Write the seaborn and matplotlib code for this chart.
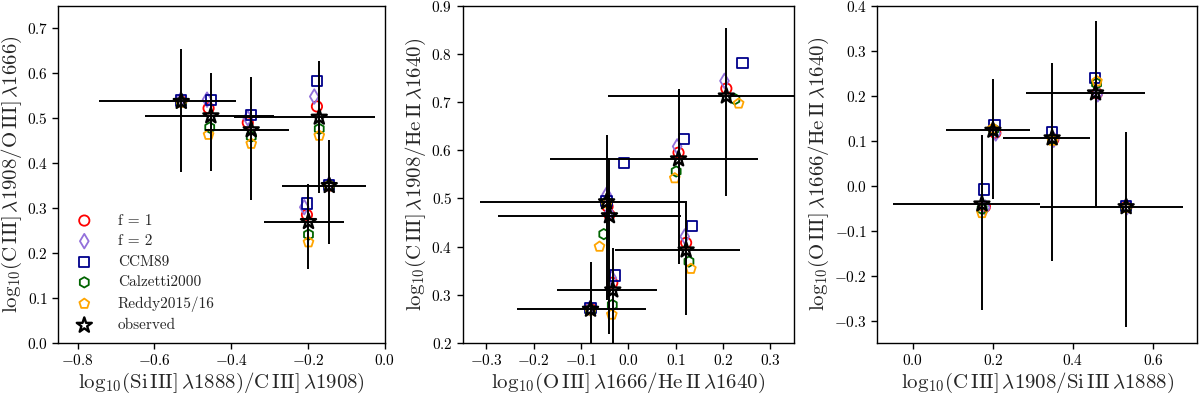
import numpy as np
import pandas as pd
import matplotlib
matplotlib.use("Agg")
import matplotlib.pyplot as plt
import seaborn as sns

sns.set_style("ticks")
plt.rcParams["font.family"] = ["cmr10", "DejaVu Serif"]
plt.rcParams["mathtext.fontset"] = "cm"
plt.rcParams["axes.formatter.use_mathtext"] = True

# model labels / marker styles
models = ["f = 1", "f = 2", "CCM89", "Calzetti2000", "Reddy2015/16"]
model_markers = ["o", "d", "s", "h", "p"]
model_colors = ["red", "mediumpurple", "darkblue", "darkgreen", "orange"]

# ---- panel 1: SiIII/CIII vs CIII/OIII
p1_obs_x = [-0.530, -0.453, -0.348, -0.171, -0.145, -0.199]
p1_obs_y = [0.537, 0.505, 0.474, 0.502, 0.350, 0.270]
p1_xerr_lo = [0.215, 0.172, 0.121, 0.223, 0.123, 0.115]
p1_xerr_hi = [0.143, 0.163, 0.098, 0.146, 0.096, 0.092]
p1_yerr_lo = [0.156, 0.122, 0.156, 0.169, 0.129, 0.106]
p1_yerr_hi = [0.116, 0.095, 0.118, 0.124, 0.102, 0.084]
p1_f1 = [(-0.530, 0.537), (-0.459, 0.522), (-0.357, 0.490), (-0.177, 0.526), (-0.145, 0.350), (-0.203, 0.285)]
p1_f2 = [(-0.532, 0.540), (-0.463, 0.541), (-0.357, 0.500), (-0.184, 0.548), (-0.146, 0.352), (-0.210, 0.302)]
p1_ccm = [(-0.530, 0.539), (-0.453, 0.541), (-0.348, 0.507), (-0.177, 0.583), (-0.145, 0.352), (-0.203, 0.310)]
p1_calz = [(-0.530, 0.536), (-0.456, 0.479), (-0.348, 0.459), (-0.171, 0.476), (-0.145, 0.350), (-0.199, 0.241)]
p1_reddy = [(-0.530, 0.535), (-0.459, 0.463), (-0.348, 0.443), (-0.171, 0.461), (-0.145, 0.349), (-0.199, 0.224)]

# ---- panel 2: OIII/HeII vs CIII/HeII
p2_obs_x = [0.207, 0.106, -0.046, -0.040, 0.122, -0.033, -0.080]
p2_obs_y = [0.7125, 0.582, 0.493, 0.464, 0.393, 0.310, 0.270]
p2_xerr_lo = [0.250, 0.272, 0.268, 0.236, 0.150, 0.117, 0.156]
p2_xerr_hi = [0.180, 0.167, 0.165, 0.152, 0.114, 0.093, 0.117]
p2_yerr_lo = [0.2065, 0.217, 0.204, 0.245, 0.135, 0.130, 0.120]
p2_yerr_hi = [0.1415, 0.146, 0.138, 0.119, 0.102, 0.087, 0.099]
p2_f1 = [(0.207, 0.728), (0.106, 0.595), (-0.044, 0.483), (-0.040, 0.466), (0.122, 0.408), (-0.034, 0.325), (-0.080, 0.271)]
p2_f2 = [(0.203, 0.744), (0.103, 0.608), (-0.046, 0.508), (-0.041, 0.470), (0.119, 0.421), (-0.035, 0.335), (-0.081, 0.272)]
p2_ccm = [(0.241, 0.781), (0.117, 0.624), (-0.046, 0.495), (-0.009, 0.574), (0.134, 0.443), (-0.029, 0.340), (-0.080, 0.272)]
p2_calz = [(0.225, 0.706), (0.101, 0.556), (-0.046, 0.492), (-0.052, 0.426), (0.128, 0.369), (-0.034, 0.279), (-0.080, 0.269)]
p2_reddy = [(0.233, 0.697), (0.098, 0.542), (-0.046, 0.490), (-0.061, 0.400), (0.132, 0.354), (-0.035, 0.259), (-0.080, 0.268)]

# ---- panel 3: CIII/SiIII vs OIII/HeII
p3_obs_x = [0.200, 0.348, 0.4565, 0.1725, 0.533]
p3_obs_y = [0.123, 0.106, 0.206, -0.041, -0.047]
p3_xerr_lo = [0.117, 0.124, 0.174, 0.2235, 0.2165]
p3_xerr_hi = [0.092, 0.095, 0.1225, 0.1455, 0.142]
p3_yerr_lo = [0.153, 0.273, 0.252, 0.236, 0.268]
p3_yerr_hi = [0.113, 0.167, 0.161, 0.153, 0.166]
p3_f1 = [(0.206, 0.117), (0.351, 0.103), (0.460, 0.205), (0.180, -0.047), (0.534, -0.047)]
p3_f2 = [(0.207, 0.116), (0.352, 0.102), (0.462, 0.203), (0.181, -0.049), (0.535, -0.048)]
p3_ccm = [(0.204, 0.134), (0.348, 0.118), (0.456, 0.239), (0.178, -0.009), (0.533, -0.045)]
p3_calz = [(0.202, 0.125), (0.349, 0.104), (0.459, 0.227), (0.173, -0.052), (0.533, -0.048)]
p3_reddy = [(0.200, 0.127), (0.349, 0.100), (0.460, 0.232), (0.1725, -0.061), (0.533, -0.049)]

xlabels = [
    r"$\mathrm{log}_{10}(\mathrm{Si\,III]}\,\lambda1888)/\mathrm{C\,III]}\,\lambda1908)$",
    r"$\mathrm{log}_{10}(\mathrm{O\,III]}\,\lambda1666/\mathrm{He\,II}\,\lambda1640)$",
    r"$\mathrm{log}_{10}(\mathrm{C\,III]}\,\lambda1908/\mathrm{Si\,III}\,\lambda1888)$",
]
ylabels = [
    r"$\mathrm{log}_{10}(\mathrm{C\,III]}\,\lambda1908/\mathrm{O\,III]}\,\lambda1666)$",
    r"$\mathrm{log}_{10}(\mathrm{C\,III]}\,\lambda1908/\mathrm{He\,II}\,\lambda1640)$",
    r"$\mathrm{log}_{10}(\mathrm{O\,III]}\,\lambda1666/\mathrm{He\,II}\,\lambda1640)$",
]

panels = [
    (p1_obs_x, p1_obs_y, p1_xerr_lo, p1_xerr_hi, p1_yerr_lo, p1_yerr_hi,
     [p1_f1, p1_f2, p1_ccm, p1_calz, p1_reddy]),
    (p2_obs_x, p2_obs_y, p2_xerr_lo, p2_xerr_hi, p2_yerr_lo, p2_yerr_hi,
     [p2_f1, p2_f2, p2_ccm, p2_calz, p2_reddy]),
    (p3_obs_x, p3_obs_y, p3_xerr_lo, p3_xerr_hi, p3_yerr_lo, p3_yerr_hi,
     [p3_f1, p3_f2, p3_ccm, p3_calz, p3_reddy]),
]
limits = [((-0.85, 0.0), (0.0, 0.75)), ((-0.35, 0.35), (0.2, 0.9)), ((-0.089, 0.711), (-0.35, 0.4))]
boxes = [(0.0486, 0.1316, 0.2722, 0.854), (0.3856, 0.1316, 0.2761, 0.854), (0.7311, 0.1316, 0.2667, 0.854)]

fig = plt.figure(figsize=(12, 3.95), dpi=100)

for i, (ox, oy, xlo, xhi, ylo, yhi, mod) in enumerate(panels):
    ax = fig.add_axes(boxes[i])
    # model predictions
    for name, mk, col, pts in zip(models, model_markers, model_colors, mod):
        df = pd.DataFrame(pts, columns=["x", "y"])
        sns.scatterplot(data=df, x="x", y="y", marker=mk, s=55, color=col,
                        facecolor="none", edgecolor=col, linewidth=1.3,
                        label=name, legend=False, ax=ax, zorder=2)
    # observed with errors
    ax.errorbar(ox, oy, xerr=[xlo, xhi], yerr=[ylo, yhi], fmt="none",
                ecolor="black", elinewidth=1.4, capsize=0, zorder=3)
    obs = pd.DataFrame({"x": ox, "y": oy})
    sns.scatterplot(data=obs, x="x", y="y", marker="*", s=130, color="black",
                    facecolor="none", edgecolor="black", linewidth=1.7,
                    label="observed", legend=False, ax=ax, zorder=4)

    ax.set_xlim(limits[i][0])
    ax.set_ylim(limits[i][1])
    ax.set_xlabel(xlabels[i], fontsize=15, labelpad=2)
    ax.set_ylabel(ylabels[i], fontsize=15, labelpad=2)
    ax.tick_params(labelsize=11, direction="out", length=4, width=1, colors="black")
    for sp in ax.spines.values():
        sp.set_visible(True)
        sp.set_color("black")
        sp.set_linewidth(1.0)
    if i == 0:
        ax.legend(loc="lower left", frameon=False, fontsize=11, handletextpad=1.2,
                  labelspacing=0.45, borderaxespad=0.3)

fig.savefig("out.png", dpi=100)
